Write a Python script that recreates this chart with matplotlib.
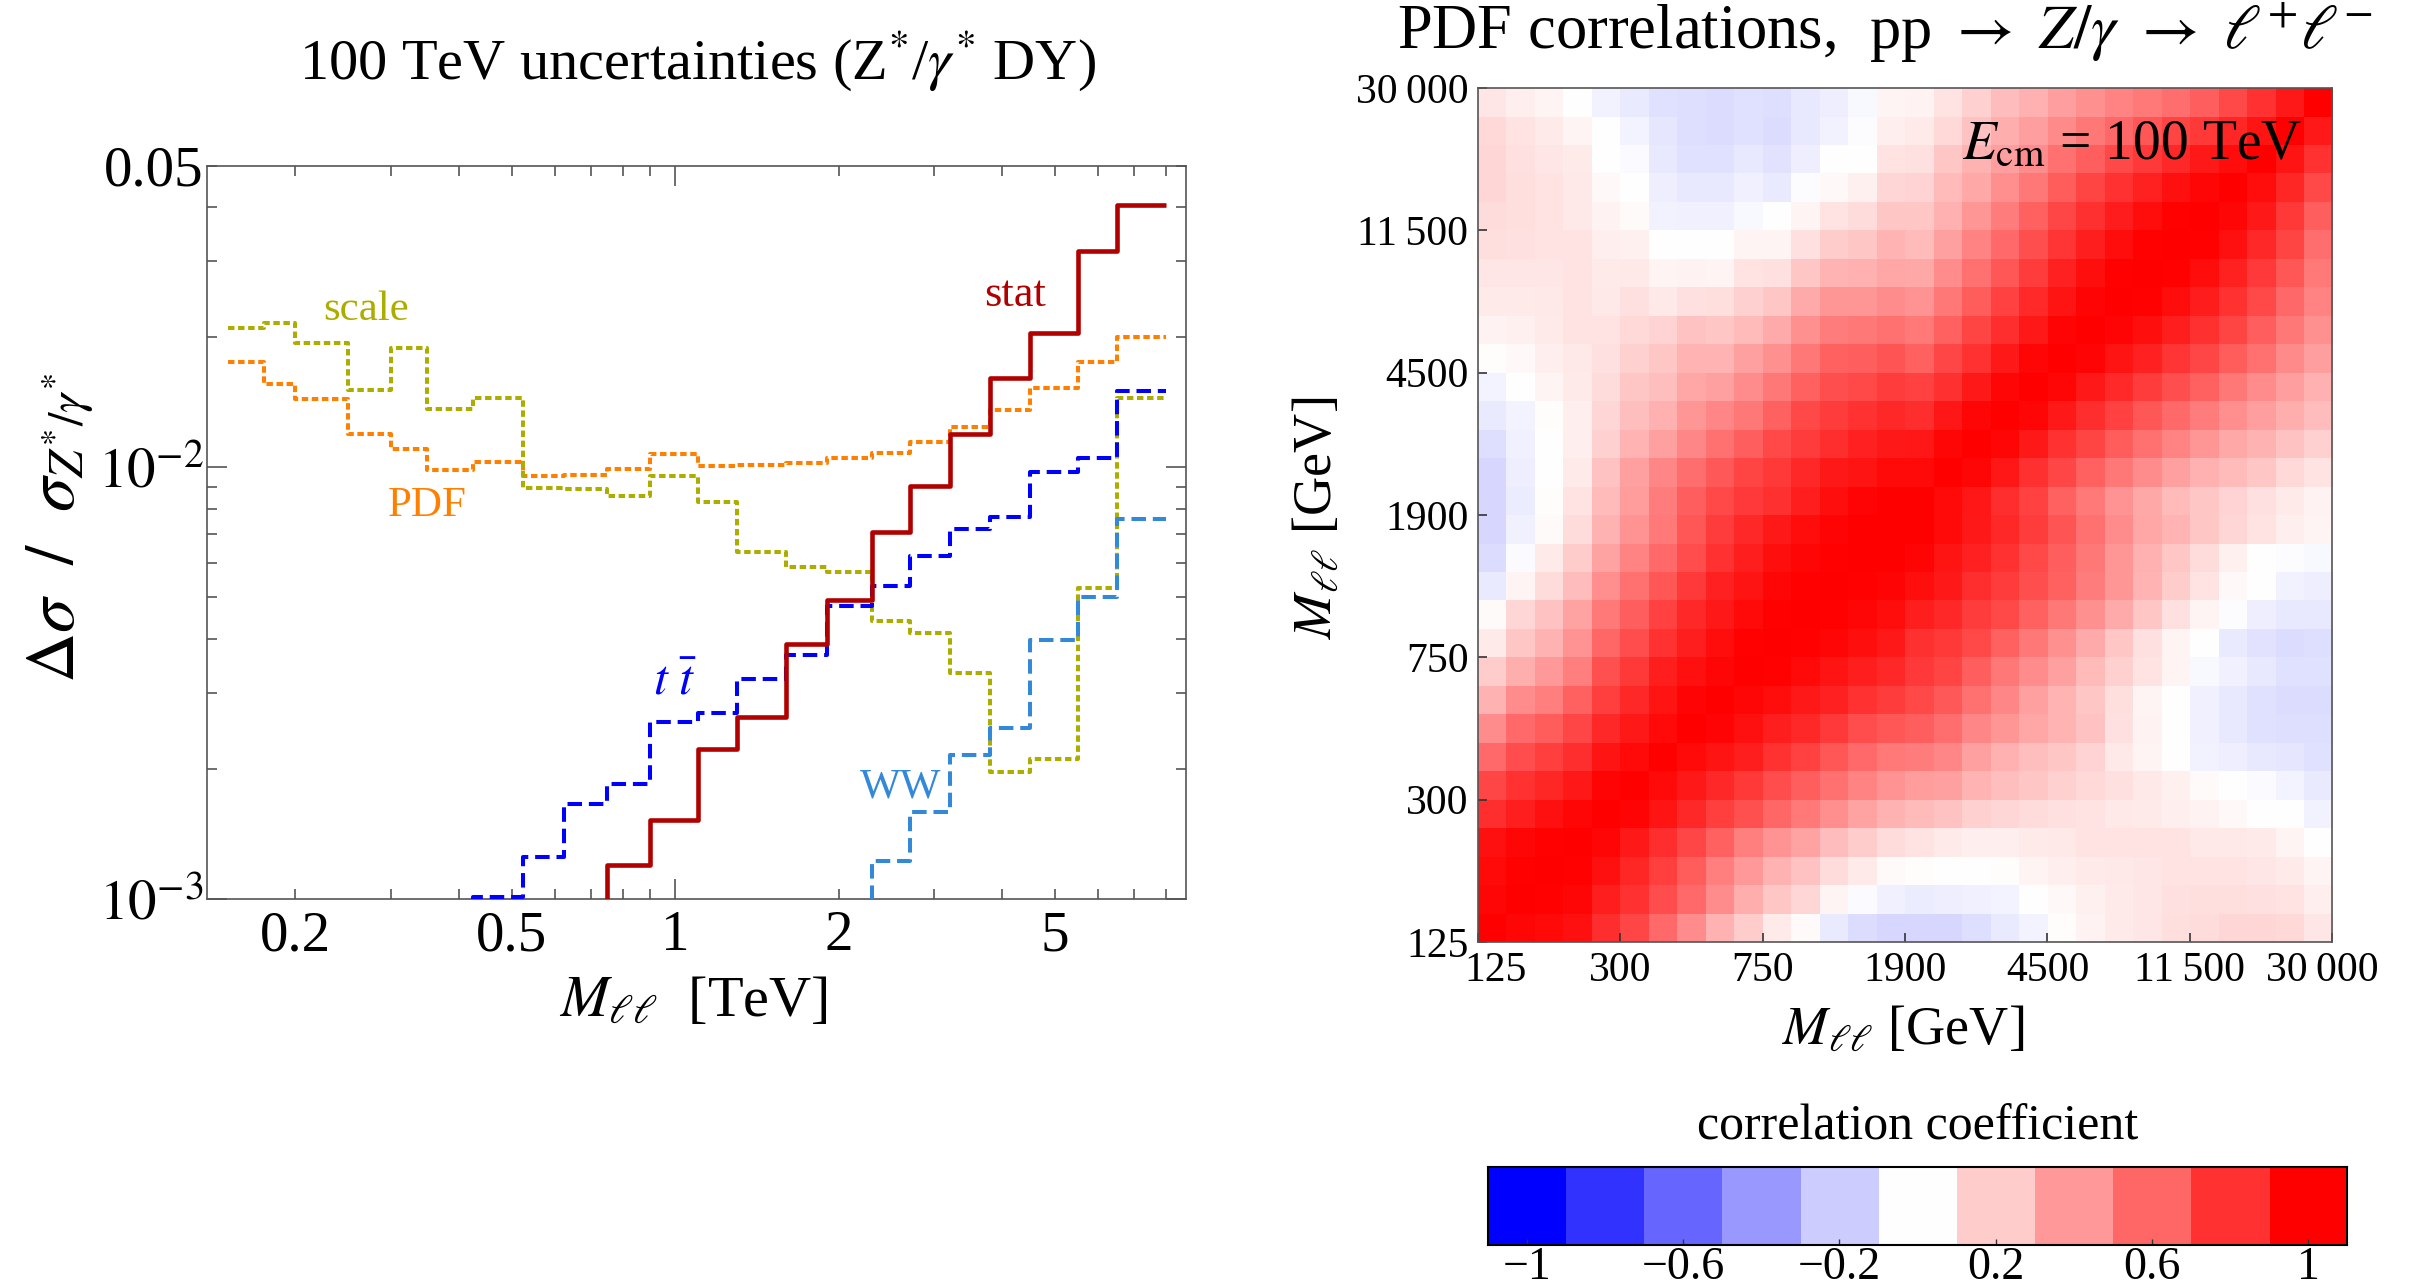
import numpy as np
import matplotlib
matplotlib.use("Agg")
import matplotlib.pyplot as plt
from matplotlib.ticker import FixedLocator, FixedFormatter
from matplotlib.transforms import ScaledTranslation

plt.rcParams["font.family"] = ["Liberation Serif", "DejaVu Serif"]
plt.rcParams["mathtext.fontset"] = "stix"

# left panel: relative uncertainties per M_ll bin (TeV)
mll_edges_tev = [0.15, 0.175, 0.2, 0.25, 0.3, 0.35, 0.425, 0.525, 0.625, 0.75, 0.9,
                 1.1, 1.3, 1.6, 1.9, 2.3, 2.7, 3.2, 3.8, 4.5, 5.5, 6.5, 8.0]
nan = np.nan
scale_unc = [0.0210, 0.0216, 0.0194, 0.0151, 0.0189, 0.01365, 0.0145, 0.00896,
             0.00893, 0.00857, 0.00958, 0.0083, 0.00637, 0.00588, 0.00572, 0.00442,
             0.00413, 0.00334, 0.00197, 0.00211, 0.00525, 0.01445]
pdf_unc = [0.01751, 0.01561, 0.0144, 0.01195, 0.01103, 0.00984, 0.01029, 0.00958,
           0.00962, 0.00993, 0.01076, 0.01009, 0.01013, 0.01024, 0.01049, 0.01083,
           0.01145, 0.01238, 0.01358, 0.01524, 0.01755, 0.02005]
# values under 1e-3 lie below the plotted range
stat_unc = [nan, nan, nan, nan, nan, nan, nan, nan, 0.0009, 0.0012, 0.00153,
            0.00223, 0.00264, 0.0039, 0.00494, 0.0071, 0.00904, 0.01197, 0.01608,
            0.0205, 0.0317, 0.0406]
ttbar_unc = [nan, nan, nan, nan, nan, 0.0008, 0.00101, 0.001255, 0.00166, 0.00185,
             0.00258, 0.0027, 0.00323, 0.00367, 0.00477, 0.00532, 0.00624, 0.0072,
             0.00766, 0.00976, 0.01051, 0.01503]
ww_unc = [nan, nan, nan, nan, nan, nan, nan, nan, nan, nan, nan, nan, nan, nan,
          0.0009, 0.001227, 0.00159, 0.00216, 0.00249, 0.00399, 0.00502, 0.0076]

# right panel: PDF correlation matrix, lower triangle, row 0 = 125 GeV bin
heat_tick_labels = ["125", "300", "750", "1900", "4500", "11\u2009500", "30\u2009000"]
corr_lower = [
    [1.0],
    [0.97, 1.0],
    [0.96, 0.99, 1.0],
    [0.93, 0.97, 0.99, 1.0],
    [0.82, 0.88, 0.93, 0.97, 1.0],
    [0.72, 0.8, 0.85, 0.9, 0.98, 1.0],
    [0.58, 0.7, 0.75, 0.82, 0.92, 0.96, 1.0],
    [0.45, 0.58, 0.64, 0.72, 0.84, 0.9, 0.96, 1.0],
    [0.3, 0.45, 0.5, 0.62, 0.75, 0.84, 0.92, 0.98, 1.0],
    [0.2, 0.32, 0.4, 0.5, 0.68, 0.78, 0.88, 0.93, 0.97, 1.0],
    [0.08, 0.22, 0.3, 0.42, 0.6, 0.7, 0.8, 0.88, 0.95, 0.99, 1.0],
    [0.02, 0.16, 0.24, 0.36, 0.52, 0.63, 0.74, 0.84, 0.9, 0.96, 0.99, 1.0],
    [-0.08, 0.04, 0.14, 0.26, 0.44, 0.55, 0.66, 0.77, 0.86, 0.92, 0.97, 0.99, 1.0],
    [-0.14, -0.02, 0.08, 0.2, 0.36, 0.48, 0.58, 0.7, 0.8, 0.88, 0.94, 0.97, 0.99, 1.0],
    [-0.16, -0.06, 0.02, 0.14, 0.3, 0.42, 0.52, 0.66, 0.76, 0.84, 0.9, 0.95, 0.98, 1.0, 1.0],
    [-0.16, -0.075, 0.01, 0.11, 0.27, 0.39, 0.51, 0.63, 0.71, 0.77, 0.81, 0.88, 0.94, 0.98,
     1.0, 1.0],
    [-0.16, -0.07, 0.0, 0.08, 0.24, 0.37, 0.47, 0.57, 0.65, 0.73, 0.78, 0.84, 0.9, 0.92,
     0.96, 0.96, 1.0],
    [-0.13, -0.06, 0.0, 0.07, 0.18, 0.29, 0.37, 0.47, 0.55, 0.63, 0.71, 0.76, 0.82, 0.86,
     0.9, 0.91, 0.97, 1.0],
    [-0.08, -0.04, 0.01, 0.07, 0.16, 0.25, 0.31, 0.41, 0.47, 0.53, 0.61, 0.71, 0.76, 0.8,
     0.84, 0.82, 0.91, 0.97, 1.0],
    [-0.04, 0.0, 0.04, 0.08, 0.14, 0.22, 0.25, 0.35, 0.37, 0.45, 0.53, 0.61, 0.69, 0.71,
     0.76, 0.74, 0.81, 0.9, 0.97, 1.0],
    [0.01, 0.03, 0.07, 0.09, 0.12, 0.18, 0.22, 0.29, 0.29, 0.37, 0.43, 0.53, 0.61, 0.63,
     0.67, 0.62, 0.72, 0.8, 0.9, 0.97, 1.0],
    [0.05, 0.06, 0.08, 0.11, 0.11, 0.15, 0.17, 0.24, 0.22, 0.27, 0.33, 0.43, 0.51, 0.53,
     0.55, 0.52, 0.62, 0.73, 0.82, 0.9, 0.98, 1.0],
    [0.08, 0.08, 0.09, 0.11, 0.09, 0.12, 0.09, 0.12, 0.13, 0.18, 0.22, 0.33, 0.41, 0.41,
     0.45, 0.42, 0.53, 0.64, 0.74, 0.83, 0.92, 0.98, 1.0],
    [0.1, 0.1, 0.1, 0.11, 0.08, 0.09, 0.04, 0.05, 0.04, 0.11, 0.12, 0.22, 0.29, 0.31,
     0.35, 0.34, 0.45, 0.56, 0.66, 0.76, 0.86, 0.94, 0.99, 1.0],
    [0.13, 0.12, 0.11, 0.11, 0.07, 0.06, 0.0, 0.0, 0.0, 0.04, 0.04, 0.12, 0.2, 0.22,
     0.29, 0.27, 0.37, 0.48, 0.58, 0.69, 0.79, 0.88, 0.95, 0.99, 1.0],
    [0.14, 0.13, 0.11, 0.09, 0.05, 0.02, -0.05, -0.06, -0.06, -0.03, 0.0, 0.04, 0.11, 0.14,
     0.22, 0.22, 0.31, 0.41, 0.51, 0.62, 0.72, 0.81, 0.89, 0.95, 0.99, 1.0],
    [0.16, 0.13, 0.11, 0.09, 0.03, 0.0, -0.07, -0.09, -0.09, -0.06, -0.08, -0.01, 0.03, 0.06,
     0.16, 0.17, 0.27, 0.34, 0.44, 0.53, 0.64, 0.73, 0.8, 0.87, 0.93, 0.97, 1.0],
    [0.16, 0.12, 0.1, 0.08, 0.0, -0.02, -0.09, -0.12, -0.12, -0.09, -0.11, -0.07, 0.0, 0.0,
     0.11, 0.12, 0.22, 0.3, 0.38, 0.45, 0.55, 0.63, 0.71, 0.77, 0.84, 0.9, 0.95, 1.0],
    [0.15, 0.11, 0.08, 0.04, 0.0, -0.04, -0.1, -0.13, -0.14, -0.12, -0.14, -0.09, -0.05, -0.01,
     0.07, 0.08, 0.15, 0.24, 0.32, 0.38, 0.46, 0.53, 0.59, 0.66, 0.73, 0.78, 0.85, 0.92, 1.0],
    [0.1, 0.07, 0.04, 0.0, -0.05, -0.08, -0.12, -0.13, -0.14, -0.12, -0.13, -0.09, -0.07, -0.03,
     0.04, 0.05, 0.11, 0.18, 0.26, 0.31, 0.38, 0.43, 0.48, 0.52, 0.57, 0.63, 0.71, 0.8, 0.9, 1.0],
]
cbar_levels = [-1.0, -0.8, -0.6, -0.4, -0.2, 0.0, 0.2, 0.4, 0.6, 0.8, 1.0]
cbar_ticks = [-1.0, -0.6, -0.2, 0.2, 0.6, 1.0]
cbar_tick_labels = ["\u22121", "\u22120.6", "\u22120.2", "0.2", "0.6", "1"]


def symmetric_from_lower(rows):
    n = len(rows)
    m = np.zeros((n, n))
    for i, row in enumerate(rows):
        for j, v in enumerate(row):
            m[i, j] = v
            m[j, i] = v
    return m


def ax_add_steps(ax, edges, values, color, linestyle, linewidth, zorder):
    y = np.append(values, values[-1])
    ax.step(edges, y, where="post", color=color, linestyle=linestyle,
            linewidth=linewidth, dash_capstyle="butt", solid_capstyle="butt",
            zorder=zorder)


fig = plt.figure(figsize=(24.18, 12.88), dpi=100)
frame_gray = "#555555"

# left panel
# ----------
ax = fig.add_axes([0.0856, 0.3018, 0.4049, 0.5696])
edges = np.array(mll_edges_tev)
dotted = (0, (1.6, 0.9))
dashed = (0, (3.6, 1.7))
ax_add_steps(ax, edges, pdf_unc, "#ff8000", dotted, 2.9, 2)
ax_add_steps(ax, edges, scale_unc, "#adad00", dotted, 2.9, 3)
ax_add_steps(ax, edges, ww_unc, "#3388d8", dashed, 2.9, 4)
ax_add_steps(ax, edges, ttbar_unc, "#0000ff", dashed, 2.9, 5)
ax_add_steps(ax, edges, stat_unc, "#b00000", "-", 3.3, 6)

ax.set_xscale("log")
ax.set_yscale("log")
ax.set_xlim(0.1375, 8.71)
ax.set_ylim(1e-3, 0.05)

ax.xaxis.set_major_locator(FixedLocator([1.0]))
ax.xaxis.set_major_formatter(FixedFormatter(["1"]))
x_minor = [0.2, 0.3, 0.4, 0.5, 0.6, 0.7, 0.8, 0.9, 2, 3, 4, 5, 6, 7, 8]
x_minor_labels = ["0.2", "", "", "0.5", "", "", "", "", "2", "", "", "5", "", "", ""]
ax.xaxis.set_minor_locator(FixedLocator(x_minor))
ax.xaxis.set_minor_formatter(FixedFormatter(x_minor_labels))

ax.yaxis.set_major_locator(FixedLocator([1e-3, 1e-2]))
ax.yaxis.set_major_formatter(FixedFormatter([r"$10^{-3}$", r"$10^{-2}$"]))
y_minor = [0.002, 0.003, 0.004, 0.005, 0.006, 0.007, 0.008, 0.009, 0.02, 0.03, 0.04, 0.05]
y_minor_labels = [""] * 11 + ["0.05"]
ax.yaxis.set_minor_locator(FixedLocator(y_minor))
ax.yaxis.set_minor_formatter(FixedFormatter(y_minor_labels))

ax.tick_params(which="both", direction="in", top=True, right=True,
               color=frame_gray, width=1.2, labelsize=41)
ax.tick_params(which="major", length=14.5)
ax.tick_params(which="minor", length=7.2)
ax.tick_params(axis="x", which="both", pad=8)
ax.tick_params(axis="y", which="both", pad=2.5)
for s in ax.spines.values():
    s.set_color(frame_gray)
    s.set_linewidth(1.2)

ax.text(0.270, 0.0232, "scale", color="#adad00", fontsize=31, ha="center", va="center")
ax.text(0.349, 0.00815, "PDF", color="#ff8000", fontsize=31, ha="center", va="center")
ax.text(4.22, 0.0251, "stat", color="#b00000", fontsize=32, ha="center", va="center")
ax.text(1.0, 0.00318, r"$t\ \bar{t}$", color="#0000ff", fontsize=36, ha="center", va="center")
ax.text(2.60, 0.00182, "WW", color="#3388d8", fontsize=31, ha="center", va="center")

fig.text(0.2883, 0.952, r"100 TeV uncertainties (Z$^{*}$/$\gamma^{*}$ DY)",
         fontsize=42, ha="center", va="center")
fig.text(0.287, 0.222, r"$M_{\ell\ell}$  [TeV]", fontsize=42, ha="center", va="center")
fig.text(0.025, 0.590, r"$\Delta\sigma\ \ /\ \ \sigma_{Z^{*}/\gamma^{*}}$", fontsize=50,
         ha="center", va="center", rotation=90)

# right panel
# -----------
ax2 = fig.add_axes([0.6113, 0.2686, 0.3532, 0.6630])
corr = symmetric_from_lower(corr_lower)
n = corr.shape[0]
ax2.imshow(corr, origin="lower", extent=(0, n, 0, n), cmap="bwr", vmin=-1, vmax=1,
           interpolation="nearest", aspect="auto")
ticks = np.arange(0, n + 1, n // (len(heat_tick_labels) - 1))
ax2.set_xticks(ticks)
ax2.set_xticklabels(heat_tick_labels)
ax2.set_yticks(ticks)
ax2.set_yticklabels(heat_tick_labels)
ax2.tick_params(direction="in", length=6.5, width=1.2, color="#333333",
                labelsize=30, pad=7)
for s in ax2.spines.values():
    s.set_color(frame_gray)
    s.set_linewidth(1.2)
# end labels on the x axis sit a little inwards, as in the original
xlabels = ax2.get_xticklabels()
xlabels[0].set_transform(xlabels[0].get_transform()
                         + ScaledTranslation(0.17, 0, fig.dpi_scale_trans))
xlabels[-1].set_transform(xlabels[-1].get_transform()
                          + ScaledTranslation(-0.10, 0, fig.dpi_scale_trans))
ax2.text(0.965, 0.934, r"$E_{\rm cm}$ = 100 TeV", transform=ax2.transAxes,
         fontsize=40, ha="right", va="center")

fig.text(0.7795, 0.975,
         r"PDF correlations,  pp $\rightarrow$ $Z/\gamma$ $\rightarrow$ $\ell^{+}\ell^{-}$",
         fontsize=45, ha="center", va="center")
fig.text(0.787, 0.200, r"$M_{\ell\ell}$ [GeV]", fontsize=39, ha="center", va="center")
fig.text(0.545, 0.598, r"$M_{\ell\ell}$ [GeV]", fontsize=39, ha="center", va="center",
         rotation=90)

# colour bar
# ----------
cax = fig.add_axes([0.6154, 0.0334, 0.3553, 0.0606])
half = (cbar_levels[1] - cbar_levels[0]) / 2
cax.imshow([cbar_levels], extent=(cbar_levels[0] - half, cbar_levels[-1] + half, 0, 1),
           cmap="bwr", vmin=-1, vmax=1, interpolation="nearest", aspect="auto")
cax.set_yticks([])
cax.set_xticks(cbar_ticks)
cax.set_xticklabels(cbar_tick_labels)
cax.tick_params(axis="x", direction="in", length=4, width=1.0, color="#333333",
                labelsize=33, pad=1)
for s in cax.spines.values():
    s.set_color("black")
    s.set_linewidth(1.5)
fig.text(0.793, 0.125, "correlation coefficient", fontsize=36, ha="center", va="center")

fig.savefig("out.png", dpi=100)
